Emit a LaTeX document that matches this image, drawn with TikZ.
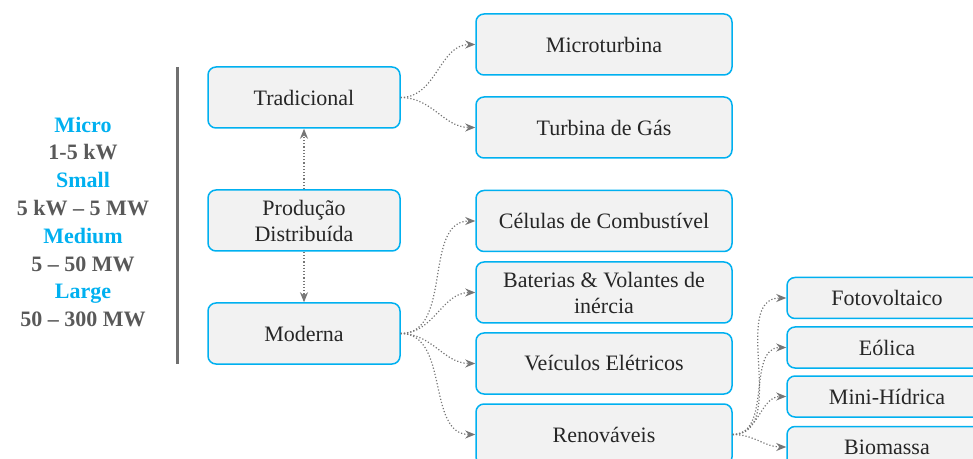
\documentclass[tikz,border=0pt]{standalone}
\usepackage{fontspec}
\setmainfont{LiberationSerif}[Extension=.ttf, UprightFont=*-Regular, BoldFont=*-Bold, ItalicFont=*-Italic, BoldItalicFont=*-BoldItalic]
\usepackage{tikz}
\usetikzlibrary{arrows.meta}

\definecolor{boxblue}{RGB}{0,176,240}
\definecolor{boxfill}{RGB}{242,242,242}
\definecolor{linkgray}{RGB}{118,118,118}
\definecolor{textgray}{RGB}{89,89,89}
\definecolor{bargray}{RGB}{112,112,112}

\begin{document}
\begin{tikzpicture}[x=0.5pt, y=-0.5pt]

	\tikzstyle{type_node}=[rectangle, rounded corners=4pt, fill=boxfill, draw=boxblue, line width=0.75pt, minimum width=96pt, minimum height=30.5pt, align=center, text=black!85, font=\fontsize{11}{13}\selectfont]
	\tikzstyle{tech_node}=[type_node, minimum width=128pt]
	\tikzstyle{renew_node}=[type_node, minimum width=100pt, minimum height=20.5pt]
	\tikzstyle{link_arrow}=[-{Stealth[length=5pt, width=4pt, fill=linkgray]}, draw=linkgray, densely dotted, line width=0.6pt]

	\clip (0, 0) rectangle (973, 459);

	\node[align=center, font=\fontsize{11}{13.9}\selectfont\bfseries, text=textgray] at (83, 222) (scales) {\textcolor{boxblue}{Micro}\\ 1-5 kW\\ \textcolor{boxblue}{Small}\\ 5 kW -- 5 MW\\ \textcolor{boxblue}{Medium}\\ 5 -- 50 MW\\ \textcolor{boxblue}{Large}\\ 50 -- 300 MW};
	\draw[bargray, line width=1.5pt] (177, 67) -- (177, 364);

	\node[type_node] at (304, 97.5) (trad) {Tradicional};
	\node[type_node] at (304, 220.5) (prod) {Produção\\ Distribuída};
	\node[type_node] at (304, 333.5) (moderna) {Moderna};

	\node[tech_node] at (604, 44.5) (micro) {Microturbina};
	\node[tech_node] at (604, 127.5) (turbina) {Turbina de Gás};
	\node[tech_node] at (604, 221) (celulas) {Células de Combustível};
	\node[tech_node] at (604, 292.5) (baterias) {Baterias \& Volantes de\\ inércia};
	\node[tech_node] at (604, 363.5) (veiculos) {Veículos Elétricos};
	\node[tech_node] at (604, 434.5) (renov) {Renováveis};

	\node[renew_node] at (887, 298) (foto) {Fotovoltaico};
	\node[renew_node] at (887, 347.5) (eolica) {Eólica};
	\node[renew_node] at (887, 396.5) (minihidrica) {Mini-Hídrica};
	\node[renew_node] at (887, 447) (biomassa) {Biomassa};

	\draw[link_arrow] (prod) -- (trad);
	\draw[link_arrow] (prod) -- (moderna);

	\draw[link_arrow] (trad.east) to[out=0, in=180] (micro.west);
	\draw[link_arrow] (trad.east) to[out=0, in=180] (turbina.west);

	\draw[link_arrow] (moderna.east) to[out=0, in=180] (celulas.west);
	\draw[link_arrow] (moderna.east) to[out=0, in=180] (baterias.west);
	\draw[link_arrow] (moderna.east) to[out=0, in=180] (veiculos.west);
	\draw[link_arrow] (moderna.east) to[out=0, in=180] (renov.west);

	\draw[link_arrow] (renov.east) to[out=0, in=180] (foto.west);
	\draw[link_arrow] (renov.east) to[out=0, in=180] (eolica.west);
	\draw[link_arrow] (renov.east) to[out=0, in=180] (minihidrica.west);
	\draw[link_arrow] (renov.east) to[out=0, in=180] (biomassa.west);
\end{tikzpicture}
\end{document}
